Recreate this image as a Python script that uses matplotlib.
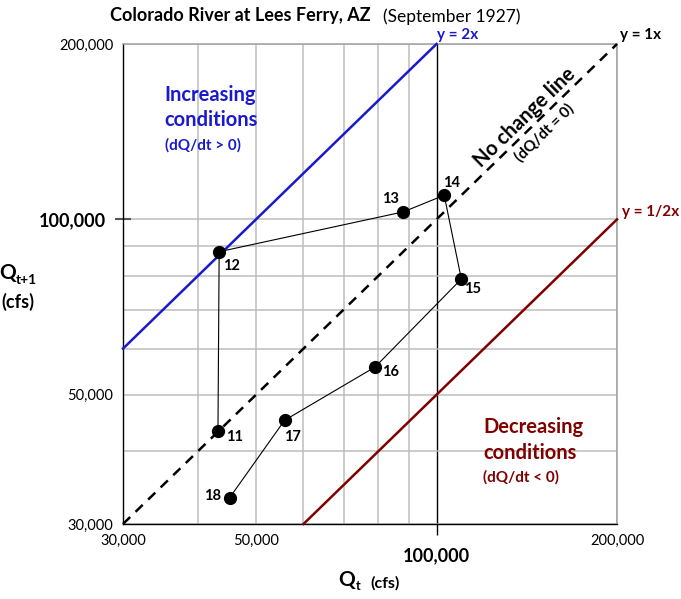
import matplotlib
matplotlib.use("Agg")
import matplotlib.pyplot as plt
from matplotlib.ticker import FixedLocator, NullFormatter, FixedFormatter

plt.rcParams['font.family'] = ['Lato', 'DejaVu Sans']

# ---- data ----
days = ['11', '12', '13', '14', '15', '16', '17', '18']
q_t = [43200, 43400, 88000, 103000, 110000, 79000, 55800, 45200]
q_t1 = [43300, 88000, 103000, 110000, 79000, 55800, 45200, 33300]
label_offsets = [(17, -6), (12, -14), (-13, 13), (7, 12), (11, -10), (15, -5), (8, -17), (-17, 2)]

ref_x = [30000, 200000]
lim = [30000, 200000]
major_ticks = [30000, 50000, 100000, 200000]
major_labels = ['30,000', '50,000', '100,000', '200,000']
minor_ticks = [40000, 60000, 70000, 80000, 90000]

W, H = 681, 599
fig = plt.figure(figsize=(W / 100, H / 100), dpi=100)
ax = fig.add_axes([123 / W, 1 - 524 / H, (617 - 123) / W, (524 - 44) / H])
ax.set_xscale('log')
ax.set_yscale('log')
ax.set_xlim(lim)
ax.set_ylim(lim)

for axis in (ax.xaxis, ax.yaxis):
    axis.set_major_locator(FixedLocator(major_ticks))
    axis.set_major_formatter(FixedFormatter(major_labels))
    axis.set_minor_locator(FixedLocator(minor_ticks))
    axis.set_minor_formatter(NullFormatter())

ax.grid(True, which='both', color='#bdbdbd', lw=1.1, zorder=0)
ax.set_axisbelow(True)
ax.tick_params(which='both', length=0)
ax.tick_params(axis='both', labelsize=10.5, colors='black')

# special ticks at 100,000
xt = ax.xaxis.get_major_ticks()
yt = ax.yaxis.get_major_ticks()
xt[2].gridline.set_color('black')
xt[2].gridline.set_linewidth(1.0)
xt[2]._apply_params(size=8, width=1.0, color='black')
yt[2]._apply_params(size=12, width=1.5, color='#555555', tickdir='inout')
for i, t in enumerate(xt):
    t.set_pad(7 if i != 2 else 9)
for i, t in enumerate(yt):
    t.set_pad(7 if i != 2 else 6)
for lab in [ax.get_xticklabels()[2], ax.get_yticklabels()[2]]:
    lab.set_fontsize(13)
    lab.set_fontweight('bold')
    lab.set_color('black')

for s in ['left', 'bottom']:
    ax.spines[s].set_color('black')
    ax.spines[s].set_linewidth(1.0)
for s in ['top', 'right']:
    ax.spines[s].set_color('#a0a0a0')
    ax.spines[s].set_linewidth(1.1)

# reference lines
ax.plot([ref_x[0], ref_x[1] / 2], [2 * ref_x[0], ref_x[1]], color='#1a1acc', lw=1.8, zorder=3, clip_on=False)
ax.plot(ref_x, ref_x, color='black', lw=1.8, ls=(0, (4, 3)), zorder=3, clip_on=False)
ax.plot([2 * ref_x[0], ref_x[1]], [ref_x[0], ref_x[1] / 2], color='#800000', lw=1.8, zorder=3, clip_on=False)

# data path
ax.plot(q_t, q_t1, color='black', lw=0.8, zorder=4)
ax.plot(q_t, q_t1, 'o', color='black', ms=8.5, zorder=5)
for d, x, y, off in zip(days, q_t, q_t1, label_offsets):
    ax.annotate(d, (x, y), xytext=off, textcoords='offset pixels', ha='center', va='center',
                fontsize=10.5, fontweight='bold', zorder=6)


def fx(px):
    return px / W


def fy(py):
    return 1 - py / H


# title
fig.text(fx(110), fy(16), 'Colorado River at Lees Ferry, AZ', fontsize=13, fontweight='bold', ha='left', va='center')
fig.text(fx(383), fy(17), '(September 1927)', fontsize=12.5, ha='left', va='center')

# line labels
fig.text(fx(437), fy(35), 'y = 2x', color='#1a1acc', fontsize=11, fontweight='bold', ha='left', va='center')
fig.text(fx(620), fy(35), 'y = 1x', color='black', fontsize=11, fontweight='bold', ha='left', va='center')
fig.text(fx(622), fy(212), 'y = 1/2x', color='#800000', fontsize=11, fontweight='bold', ha='left', va='center')

# region labels
blue = '#1a1acc'
fig.text(fx(164), fy(95), 'Increasing', color=blue, fontsize=14.5, fontweight='bold', ha='left', va='center')
fig.text(fx(164), fy(120), 'conditions', color=blue, fontsize=14.5, fontweight='bold', ha='left', va='center')
fig.text(fx(165), fy(145), '(dQ/dt > 0)', color=blue, fontsize=11, fontweight='bold', ha='left', va='center')
red = '#800000'
fig.text(fx(483), fy(427), 'Decreasing', color=red, fontsize=14.5, fontweight='bold', ha='left', va='center')
fig.text(fx(483), fy(453), 'conditions', color=red, fontsize=14.5, fontweight='bold', ha='left', va='center')
fig.text(fx(483), fy(477), '(dQ/dt < 0)', color=red, fontsize=11, fontweight='bold', ha='left', va='center')

fig.text(fx(525), fy(117), 'No change line', fontsize=14.5, fontweight='bold', rotation=44.2,
         ha='center', va='center', rotation_mode='anchor')
fig.text(fx(545), fy(133), '(dQ/dt = 0)', fontsize=11, fontweight='bold', rotation=44.2,
         ha='center', va='center', rotation_mode='anchor')

# axis labels
fig.text(fx(347), fy(580), 'Q', fontsize=15, fontweight='bold', ha='center', va='center')
fig.text(fx(358), fy(586), 't', fontsize=9, fontweight='bold', ha='center', va='center')
fig.text(fx(385), fy(583), '(cfs)', fontsize=11.5, fontweight='bold', ha='center', va='center')
fig.text(fx(8), fy(273), 'Q', fontsize=15, fontweight='bold', ha='center', va='center')
fig.text(fx(26), fy(280), 't+1', fontsize=10, fontweight='bold', ha='center', va='center')
fig.text(fx(18), fy(302), '(cfs)', fontsize=13, fontweight='bold', ha='center', va='center')

fig.savefig('out.png', dpi=100)
